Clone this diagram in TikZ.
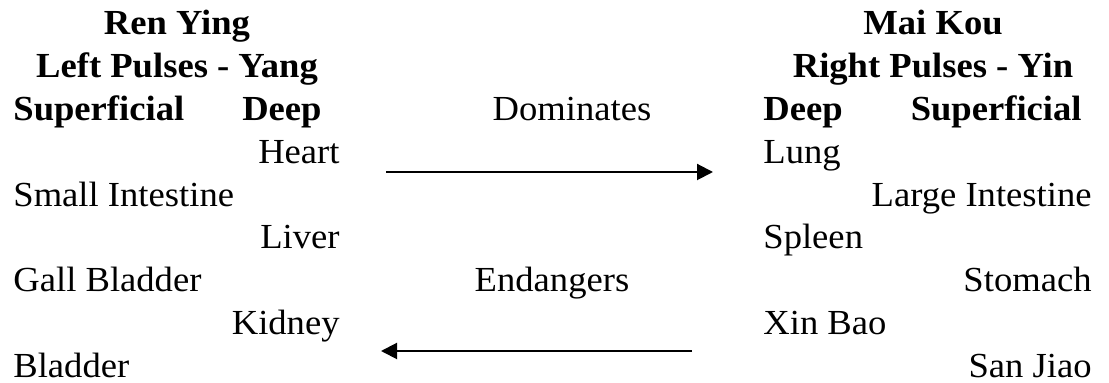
\documentclass[tikz,border=0pt]{standalone}
\usepackage{fontspec}
\setmainfont[FakeStretch=1.04]{Liberation Serif}
\usetikzlibrary{arrows.meta}

\begin{document}
\begin{tikzpicture}[x=0.5pt, y=-0.5pt, font=\fontsize{17.6}{21}\selectfont, inner sep=0pt]
		\useasboundingbox (0,0) rectangle (1109,383);
		% Ren Ying
		% Headings
		\begin{scope}[every node/.style={anchor=base, font=\fontsize{17.6}{21}\selectfont\bfseries}]
			\node (renying) at (177,35) {Ren Ying};
			\node (leftpulses) at (177,78) {Left Pulses - Yang};
			\node[anchor=base west] (lsuper) at (13,121) {Superficial};
			\node[anchor=base east] (ldeep) at (322,121) {Deep};
		\end{scope}
		
		% Organs
		\begin{scope}[every node/.style={anchor=base east}]
			\node (heart) at (340,164) {Heart};
			\node (liver) at (340,249) {Liver};
			\node (kidney) at (340,335) {Kidney};
		\end{scope}
		\begin{scope}[every node/.style={anchor=base west}]
			\node (smallint) at (13,207) {Small Intestine};
			\node (gallbl) at (13,292) {Gall Bladder};
			\node (bladder) at (13,378) {Bladder};
		\end{scope}
		
		% Mai Kou
		% Headings
		\begin{scope}[every node/.style={anchor=base, font=\fontsize{17.6}{21}\selectfont\bfseries}]
			\node (maikou) at (933,35) {Mai Kou};
			\node (rightpulses) at (933,78) {Right Pulses - Yin};
			\node[anchor=base west] (rdeep) at (763,121) {Deep};
			\node[anchor=base east] (rsuper) at (1082,121) {Superficial};
		\end{scope}
		
		% Organs
		\begin{scope}[every node/.style={anchor=base west}]
			\node (lung) at (763,164) {Lung};
			\node (spleen) at (763,249) {Spleen};
			\node (xinbao) at (763,335) {Xin Bao};
		\end{scope}
		\begin{scope}[every node/.style={anchor=base east}]
			\node (largeint) at (1092,207) {Large Intestine};
			\node (stomach) at (1092,292) {Stomach};
			\node (sanjiao) at (1092,378) {San Jiao};
		\end{scope}
		
		% Arrows
		\node[anchor=base] (dominates) at (572,121) {Dominates};
		\node[anchor=base] (endangers) at (552,292) {Endangers};
		\coordinate (domfrom) at (386,172);
		\coordinate (domto) at (713,172);
		\coordinate (endfrom) at (692,351);
		\coordinate (endto) at (381,351);
		\begin{scope}[every edge/.style={draw, line width=1pt, -{Triangle[length=8pt,width=8pt]}}]
			\path (domfrom) edge (domto);
			\path (endfrom) edge (endto);
		\end{scope}
	\end{tikzpicture}
\end{document}
